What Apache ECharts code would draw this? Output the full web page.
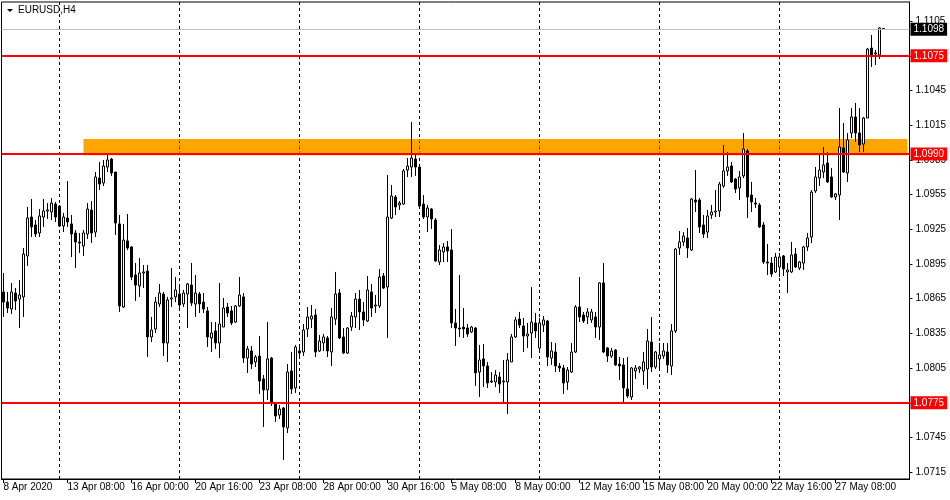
<!DOCTYPE html>
<html><head><meta charset="utf-8">
<script src="https://cdn.jsdelivr.net/npm/echarts@6/dist/echarts.min.js"></script>
<style>html,body{margin:0;padding:0;background:#fff}#c{width:950px;height:500px}</style>
</head><body><div id="c"></div>
<script>
const symbolTitle = 'EURUSD,H4';

const opens = [1.08708,1.08621,1.08561,1.08699,1.08647,1.08665,1.09019,1.09356,1.09287,1.09218,1.09356,1.09408,1.09399,1.09468,1.09451,1.09278,1.09347,1.09296,1.09218,1.09140,
1.09105,1.09209,1.09417,1.09226,1.09693,1.09650,1.09788,1.09857,1.09745,1.09296,1.08578,1.09149,1.09097,1.08855,1.08760,1.08872,1.08889,1.08319,1.08388,1.08604,
1.08690,1.08267,1.08647,1.08665,1.08690,1.08604,1.08690,1.08768,1.08604,1.08690,1.08621,1.08544,1.08310,1.08371,1.08267,1.08405,1.08578,1.08544,1.08448,1.08587,
1.08665,1.08137,1.08198,1.08103,1.08154,1.07956,1.07861,1.08137,1.07748,1.07644,1.07705,1.07532,1.08025,1.07878,1.08198,1.08189,1.08388,1.08474,1.08509,1.08198,
1.08267,1.08310,1.08189,1.08474,1.08699,1.08319,1.08180,1.08405,1.08492,1.08647,1.08535,1.08457,1.08708,1.08587,1.08587,1.08846,1.08751,1.09347,1.09529,1.09460,
1.09468,1.09762,1.09788,1.09857,1.09788,1.09468,1.09356,1.09425,1.09330,1.08967,1.09054,1.09097,1.09071,1.08440,1.08396,1.08405,1.08396,1.08362,1.08396,1.08016,
1.08129,1.08068,1.07930,1.07930,1.07973,1.07930,1.07930,1.08103,1.08319,1.08474,1.08414,1.08327,1.08353,1.08440,1.08224,1.08422,1.08457,1.08137,1.08189,1.08068,
1.08051,1.07930,1.08016,1.08189,1.08578,1.08509,1.08492,1.08466,1.08492,1.08405,1.08786,1.08224,1.08154,1.08206,1.08085,1.08077,1.07869,1.07800,1.08025,1.08042,
1.08025,1.08042,1.08275,1.08059,1.08129,1.08154,1.08189,1.08068,1.08371,1.09088,1.09140,1.09175,1.09071,1.09503,1.09503,1.09287,1.09226,1.09373,1.09399,1.09408,
1.09624,1.09754,1.09797,1.09685,1.09607,1.09711,1.09927,1.09546,1.09477,1.09460,1.09287,1.08967,1.08958,1.08881,1.08924,1.09019,1.08881,1.08881,1.09036,1.08915,
1.08958,1.09097,1.09183,1.09581,1.09693,1.09745,1.09823,1.09702,1.09529,1.09546,1.09953,1.09737,1.10082,1.10221,1.10082,1.09987,1.10212,1.10817,1.10765,1.10757,
1.10985];

const closes = [1.08621,1.08569,1.08708,1.08630,1.08682,1.09036,1.09347,1.09270,1.09209,1.09365,1.09408,1.09417,1.09477,1.09356,1.09278,1.09356,1.09313,1.09209,1.09140,1.09131,
1.09218,1.09425,1.09218,1.09702,1.09641,1.09797,1.09849,1.09737,1.09304,1.08587,1.09157,1.09088,1.08837,1.08768,1.08872,1.08881,1.08319,1.08379,1.08621,1.08699,
1.08267,1.08639,1.08656,1.08725,1.08595,1.08699,1.08777,1.08613,1.08699,1.08604,1.08561,1.08319,1.08353,1.08267,1.08431,1.08569,1.08526,1.08440,1.08587,1.08682,
1.08137,1.08215,1.08085,1.08146,1.07938,1.07861,1.08129,1.07748,1.07636,1.07696,1.07541,1.08016,1.07869,1.08232,1.08180,1.08379,1.08492,1.08500,1.08189,1.08284,
1.08319,1.08198,1.08492,1.08690,1.08310,1.08180,1.08396,1.08500,1.08647,1.08535,1.08466,1.08725,1.08569,1.08595,1.08837,1.08742,1.09356,1.09538,1.09443,1.09477,
1.09754,1.09797,1.09866,1.09788,1.09451,1.09356,1.09434,1.09339,1.08976,1.09071,1.09097,1.09062,1.08440,1.08396,1.08388,1.08388,1.08345,1.08405,1.08008,1.08120,
1.08068,1.07921,1.07938,1.07990,1.07912,1.07938,1.08120,1.08319,1.08466,1.08422,1.08327,1.08345,1.08448,1.08371,1.08440,1.08466,1.08146,1.08198,1.08068,1.08051,
1.07921,1.08033,1.08189,1.08578,1.08492,1.08457,1.08535,1.08535,1.08405,1.08786,1.08189,1.08154,1.08198,1.08077,1.08068,1.07878,1.07809,1.08051,1.08051,1.08059,
1.08103,1.08284,1.08059,1.08189,1.08163,1.08198,1.08077,1.08371,1.09079,1.09140,1.09192,1.09088,1.09512,1.09486,1.09270,1.09209,1.09365,1.09399,1.09408,1.09641,
1.09754,1.09788,1.09659,1.09598,1.09702,1.09944,1.09529,1.09486,1.09468,1.09270,1.08967,1.08958,1.08863,1.09010,1.09010,1.08907,1.08898,1.09028,1.08924,1.08967,
1.09097,1.09175,1.09572,1.09702,1.09762,1.09806,1.09659,1.09529,1.09555,1.09961,1.09745,1.10022,1.10221,1.10082,1.09979,1.10212,1.10808,1.10748,1.10774,1.10990,
1.10980];

const lows = [1.08492,1.08526,1.08518,1.08552,1.08396,1.08492,1.08932,1.09183,1.09183,1.09183,1.09270,1.09339,1.09330,1.09313,1.09270,1.09226,1.09270,1.09010,1.08915,1.09045,
1.09019,1.09166,1.09131,1.09183,1.09589,1.09624,1.09745,1.09711,1.09201,1.08535,1.08569,1.09071,1.08811,1.08630,1.08665,1.08742,1.08146,1.08275,1.08353,1.08578,
1.08154,1.08103,1.08578,1.08621,1.08544,1.08578,1.08396,1.08587,1.08492,1.08526,1.08526,1.08232,1.08189,1.08215,1.08137,1.08405,1.08492,1.08422,1.08440,1.08578,
1.08094,1.08008,1.08042,1.08059,1.07826,1.07541,1.07774,1.07722,1.07584,1.07610,1.07255,1.07489,1.07826,1.07835,1.08154,1.08154,1.08319,1.08396,1.08146,1.08189,
1.08198,1.08146,1.08068,1.08422,1.08301,1.08172,1.08172,1.08371,1.08396,1.08379,1.08414,1.08448,1.08492,1.08526,1.08569,1.08734,1.08310,1.09339,1.09373,1.09417,
1.09460,1.09702,1.09702,1.09711,1.09434,1.09339,1.09226,1.09252,1.08967,1.08941,1.08967,1.08967,1.08396,1.08241,1.08319,1.08310,1.08319,1.08353,1.07895,1.07800,
1.07886,1.07878,1.07921,1.07886,1.07835,1.07757,1.07653,1.08103,1.08310,1.08396,1.08189,1.08224,1.08137,1.08310,1.08206,1.08362,1.08068,1.08077,1.08016,1.08016,
1.07826,1.07861,1.08008,1.08180,1.08448,1.08440,1.08431,1.08440,1.08310,1.08293,1.08180,1.08103,1.08137,1.08068,1.07946,1.07739,1.07791,1.07774,1.07956,1.08008,
1.07904,1.07869,1.08016,1.08042,1.08042,1.08129,1.08008,1.07990,1.08353,1.09028,1.09105,1.09002,1.09062,1.09399,1.09218,1.09175,1.09175,1.09339,1.09356,1.09356,
1.09607,1.09711,1.09650,1.09564,1.09503,1.09693,1.09347,1.09399,1.09434,1.09261,1.08950,1.08855,1.08837,1.08872,1.08837,1.08846,1.08699,1.08872,1.08915,1.08898,
1.08898,1.09062,1.09131,1.09564,1.09624,1.09693,1.09650,1.09520,1.09503,1.09330,1.09737,1.09659,1.10039,1.10004,1.09918,1.09918,1.10212,1.10653,1.10670,1.10722,
1.10975];

const highs = [1.08872,1.08708,1.08786,1.08742,1.08811,1.09088,1.09443,1.09512,1.09330,1.09425,1.09512,1.09477,1.09520,1.09486,1.09460,1.09391,1.09667,1.09373,1.09244,1.09218,
1.09244,1.09477,1.09494,1.09745,1.09831,1.09849,1.09892,1.09866,1.09745,1.09373,1.09296,1.09382,1.09105,1.08958,1.09002,1.08941,1.08941,1.08492,1.08665,1.08777,
1.08708,1.08665,1.08915,1.08837,1.08777,1.08725,1.08786,1.08958,1.08855,1.08708,1.08699,1.08578,1.08448,1.08448,1.08786,1.08656,1.08613,1.08587,1.08595,1.08837,
1.08699,1.08241,1.08241,1.08163,1.08327,1.07990,1.08448,1.08146,1.07757,1.07731,1.07714,1.08085,1.08189,1.08250,1.08241,1.08431,1.08578,1.08595,1.08561,1.08336,
1.08345,1.08327,1.08569,1.08881,1.08734,1.08396,1.08405,1.08535,1.08699,1.08725,1.08621,1.08846,1.08777,1.08682,1.08907,1.08872,1.09719,1.09633,1.09546,1.09494,
1.09771,1.09866,1.10177,1.09892,1.09806,1.09546,1.09460,1.09434,1.09347,1.09114,1.09131,1.09149,1.09252,1.08561,1.08855,1.08569,1.08431,1.08414,1.08405,1.08250,
1.08258,1.08103,1.08016,1.08033,1.08016,1.08120,1.08180,1.08345,1.08492,1.08535,1.08483,1.08440,1.08751,1.08526,1.08483,1.08500,1.08466,1.08275,1.08267,1.08094,
1.08077,1.08059,1.08267,1.08595,1.08837,1.08535,1.08569,1.08561,1.08535,1.08794,1.08958,1.08232,1.08224,1.08215,1.08146,1.08137,1.08146,1.08059,1.08077,1.08068,
1.08189,1.08388,1.08492,1.08198,1.08267,1.08267,1.08267,1.08431,1.09088,1.09235,1.09226,1.09261,1.09520,1.09762,1.09520,1.09373,1.09417,1.09460,1.09589,1.09659,
1.09979,1.09918,1.09831,1.09693,1.09754,1.10082,1.09944,1.09659,1.09520,1.09477,1.09313,1.09123,1.09010,1.09045,1.09045,1.09028,1.08958,1.09140,1.09088,1.08976,
1.09105,1.09218,1.09589,1.09788,1.09892,1.09961,1.09918,1.09780,1.09564,1.10298,1.10169,1.10082,1.10298,1.10342,1.10298,1.10221,1.10817,1.10929,1.10800,1.10994,
1.10990];

const xTickLabels = ['8 Apr 2020','13 Apr 08:00','16 Apr 00:00','20 Apr 16:00','23 Apr 08:00','28 Apr 00:00','30 Apr 16:00',
  '5 May 08:00','8 May 00:00','12 May 16:00','15 May 08:00','20 May 00:00','22 May 16:00','27 May 08:00'];
const xLabelStep = 16;
const yTickValues = [1.0715,1.0745,1.0775,1.0805,1.0835,1.0865,1.0895,1.0925,1.0955,1.0985,1.1015,1.1045,1.1075,1.1105];
const levelLines = [1.1075, 1.0990, 1.0775];
const currentPrice = 1.1098;
const zoneHigh = 1.1003;
const zoneLow = 1.0989;
const zoneStartBar = 20;
const weekStartBars = [14, 44, 74, 104, 134, 164, 194];
const emptyBarsRight = 6;

const FONT = '"Liberation Sans", Arial, sans-serif';
const FS = 10;
const chart = echarts.init(document.getElementById('c'), null, {renderer: 'canvas'});
const n = opens.length;
const cats = Array.from({length: n + emptyBarsRight}, (_, i) => String(i));
const ohlc = opens.map((o, i) => [o, closes[i], lows[i], highs[i]]);
const showX = (i) => i % xLabelStep === 0 && (i / xLabelStep) < xTickLabels.length;

const levelData = levelLines.map(v => ({
  yAxis: v,
  lineStyle: {color: '#ff0000', width: 2, type: 'solid'},
  label: {backgroundColor: '#ff0000', color: '#ffffff'}
}));
levelData.push({
  yAxis: currentPrice,
  lineStyle: {color: '#c0c0c0', width: 1, type: 'solid'},
  label: {backgroundColor: '#000000', color: '#ffffff'}
});

// separator segments that cross the orange zone are drawn in blue (XOR-like look)
const zoneSeparators = weekStartBars.filter(b => b >= zoneStartBar).map(b => [
  {xAxis: b, yAxis: zoneHigh}, {xAxis: b, yAxis: zoneLow}
]);

const option = {
  animation: false,
  backgroundColor: '#ffffff',
  graphic: [
    {type: 'polygon', shape: {points: [[7, 9], [13, 9], [10, 12]]}, style: {fill: '#000'}},
    {type: 'text', left: 18, top: 5, style: {text: symbolTitle, fill: '#000', font: FS + 'px ' + FONT}}
  ],
  grid: {left: 1.5, top: 2, width: 908, height: 477, show: true, borderColor: '#000', borderWidth: 1, backgroundColor: 'transparent'},
  xAxis: {
    type: 'category', data: cats, boundaryGap: true,
    axisLine: {show: true, lineStyle: {color: '#000', width: 1}},
    axisTick: {show: true, alignWithLabel: true, length: 4, interval: showX, lineStyle: {color: '#000'}},
    axisLabel: {interval: showX, hideOverlap: false, formatter: (v, i) => xTickLabels[i / xLabelStep] || '', align: 'left',
      margin: 3, color: '#000', fontSize: FS, fontFamily: FONT},
    splitLine: {show: false}
  },
  yAxis: {
    type: 'value', position: 'right', min: 1.07091, max: 1.112147, scale: true,
    axisLine: {show: true, lineStyle: {color: '#000', width: 1}},
    axisTick: {show: true, length: 3, customValues: yTickValues, lineStyle: {color: '#000'}},
    axisLabel: {customValues: yTickValues, formatter: v => v.toFixed(4), margin: 6, color: '#000', fontSize: FS, fontFamily: FONT},
    splitLine: {show: false}
  },
  series: [
    {
      type: 'line', data: [], silent: true,
      markArea: {
        silent: true, z: 1,
        itemStyle: {color: '#FFA500', opacity: 1, borderWidth: 0},
        data: [[{xAxis: zoneStartBar, yAxis: zoneHigh}, {xAxis: cats.length - 1, yAxis: zoneLow}]]
      },
      markLine: {
        silent: true, z: 1.5, symbol: ['none', 'none'], precision: 5,
        label: {show: false},
        lineStyle: {color: '#000', width: 1, type: [3, 3]},
        data: weekStartBars.map(b => ({xAxis: b}))
      }
    },
    {
      type: 'line', data: [], silent: true,
      markLine: {
        silent: true, z: 1.6, symbol: ['none', 'none'], precision: 5,
        label: {show: false},
        lineStyle: {color: '#3f6fd8', width: 1, type: [3, 3]},
        data: zoneSeparators
      }
    },
    {
      type: 'candlestick', data: ohlc, barWidth: 2, z: 2,
      itemStyle: {color: '#ffffff', color0: '#000000', borderColor: '#000000', borderColor0: '#000000', borderColorDoji: '#000000', borderWidth: 1},
      markLine: {
        silent: true, z: 5, symbol: ['none', 'none'], precision: 5,
        label: {show: true, position: 'end', distance: 1, formatter: p => Number(p.value).toFixed(4),
          fontSize: FS, fontFamily: FONT, padding: [2, 3, 1, 3]},
        data: levelData
      }
    }
  ]
};
chart.setOption(option);
</script>
</body></html>
